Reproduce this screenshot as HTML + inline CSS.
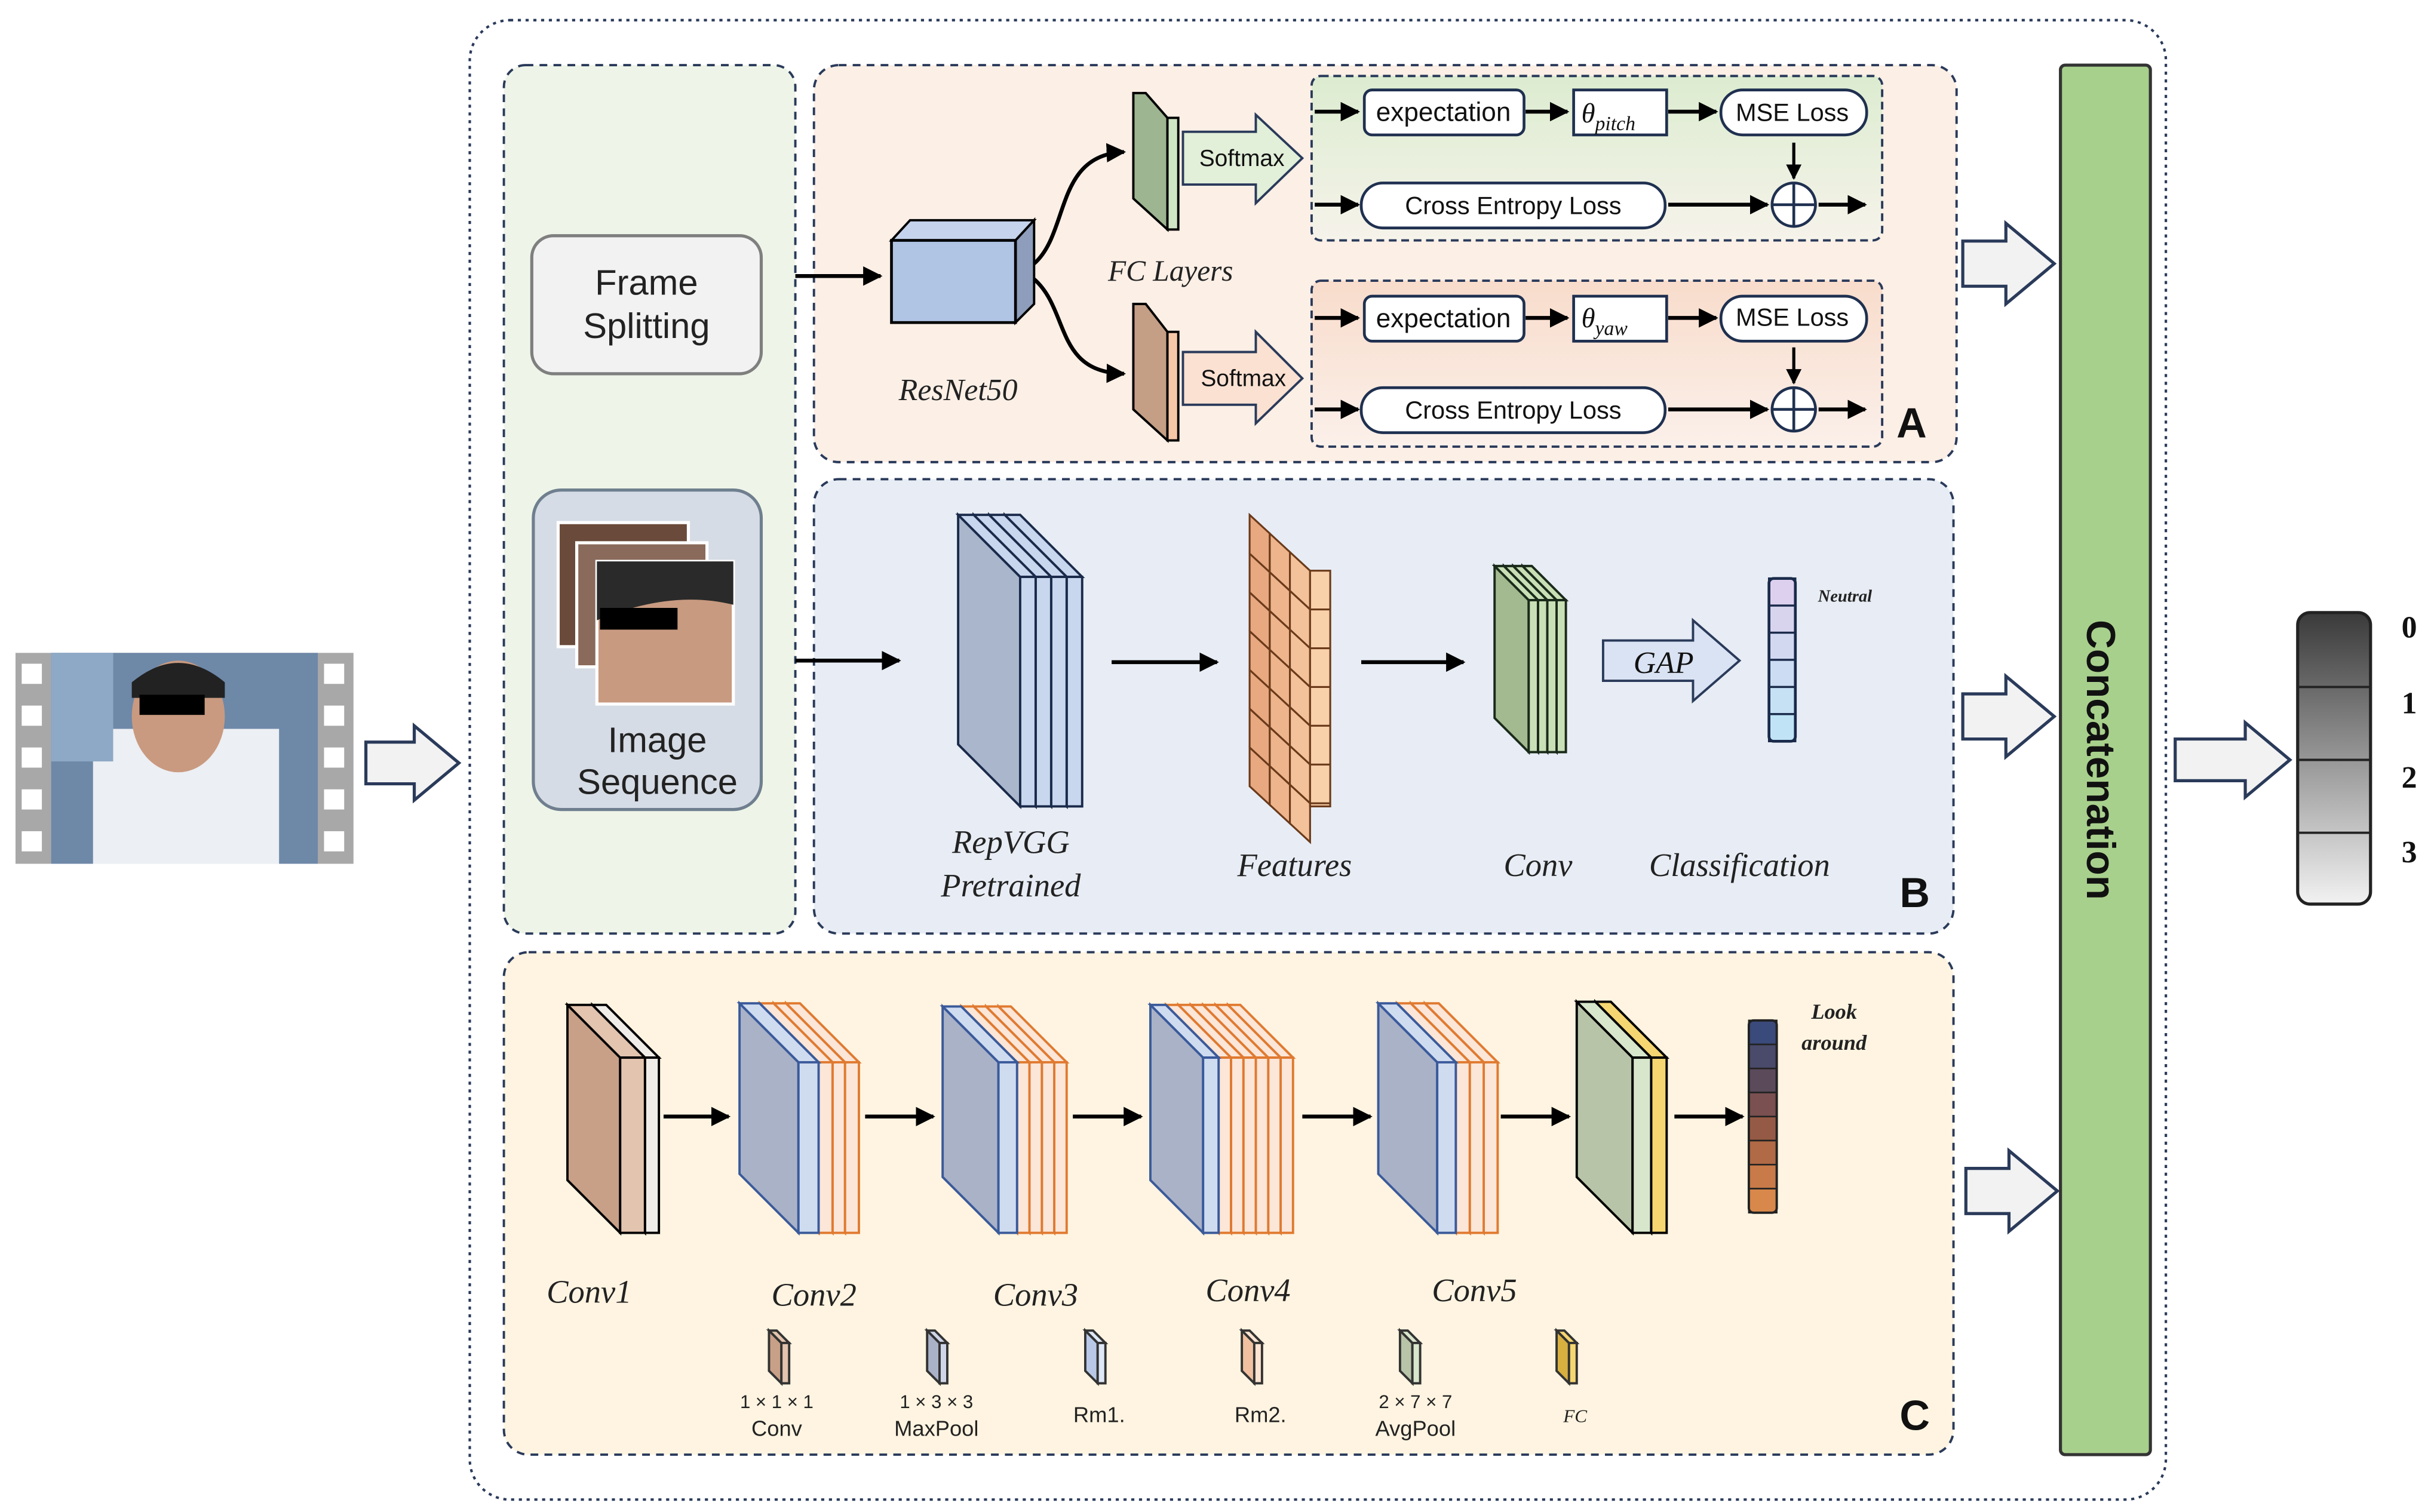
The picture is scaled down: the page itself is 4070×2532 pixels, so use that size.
<!DOCTYPE html>
<html><head><meta charset="utf-8"><style>
html,body{margin:0;padding:0;background:#fff}
svg{display:block}
text{font-family:"Liberation Sans",sans-serif}
.it,.it text{font-family:"Liberation Serif","DejaVu Serif",serif;font-style:italic}
</style></head><body>
<svg id="s" width="4070" height="2532" viewBox="0 0 1568 975" preserveAspectRatio="none" xmlns="http://www.w3.org/2000/svg">
<defs>
<marker id="ah" viewBox="0 0 10 10" refX="9" refY="5" markerWidth="5" markerHeight="5" orient="auto"><path d="M0,0L10,5L0,10z" fill="#000"/></marker>
<linearGradient id="gbar" x1="0" y1="0" x2="0" y2="1"><stop offset="0" stop-color="#3a3a3a"/><stop offset="1" stop-color="#f2f2f2"/></linearGradient>
<linearGradient id="gA1" x1="0" y1="0" x2="0" y2="1"><stop offset="0" stop-color="#dcecd0"/><stop offset="1" stop-color="#f6f3ea"/></linearGradient>
<linearGradient id="gA2" x1="0" y1="0" x2="0" y2="1"><stop offset="0" stop-color="#f8dccb"/><stop offset="1" stop-color="#fbf0ea"/></linearGradient>
</defs>
<rect x="303" y="13" width="1094" height="954" rx="26" fill="#fff" stroke="#2a3a5a" stroke-width="1.6" stroke-dasharray="2,3"/>
<rect x="10" y="421" width="218" height="136" fill="#a8a8a8"/>
<rect x="33" y="421" width="172" height="136" fill="#6e88a8"/>
<rect x="60" y="470" width="120" height="87" fill="#eceff3"/>
<ellipse cx="115" cy="462" rx="30" ry="36" fill="#c99a80"/>
<path d="M85,440 Q115,415 145,440 L145,450 L85,450z" fill="#222"/>
<rect x="90" y="448" width="42" height="13" fill="#000"/>
<rect x="33" y="421" width="40" height="70" fill="#8ea9c6"/>
<g fill="#fff">
<rect x="14" y="428" width="13" height="13"/><rect x="14" y="455" width="13" height="13"/><rect x="14" y="482" width="13" height="13"/><rect x="14" y="509" width="13" height="13"/><rect x="14" y="536" width="13" height="13"/>
<rect x="209" y="428" width="13" height="13"/><rect x="209" y="455" width="13" height="13"/><rect x="209" y="482" width="13" height="13"/><rect x="209" y="509" width="13" height="13"/><rect x="209" y="536" width="13" height="13"/>
</g>
<g id="hollow"></g>
<rect x="325" y="42" width="188" height="560" rx="14" fill="#eef5e8" stroke="#2a3a5a" stroke-width="1.5" stroke-dasharray="5,4"/>
<rect x="343" y="152" width="148" height="89" rx="14" fill="#f2f2f2" stroke="#7f7f7f" stroke-width="2"/>
<text x="417" y="190" font-size="23" text-anchor="middle" fill="#222">Frame</text>
<text x="417" y="218" font-size="23" text-anchor="middle" fill="#222">Splitting</text>
<rect x="344" y="316" width="147" height="206" rx="18" fill="#d6dce5" stroke="#6f7f8f" stroke-width="2"/>
<rect x="360" y="337" width="84" height="80" fill="#6a4a3a" stroke="#fff" stroke-width="2"/>
<rect x="372" y="350" width="84" height="80" fill="#8a6a5a" stroke="#fff" stroke-width="2"/>
<rect x="385" y="362" width="88" height="92" fill="#c89a80" stroke="#fff" stroke-width="2"/>
<path d="M385,362 h88 v28 q-40,-10 -88,10z" fill="#2a2a2a"/>
<rect x="387" y="392" width="50" height="14" fill="#000"/>
<text x="424" y="485" font-size="23" text-anchor="middle" fill="#222">Image</text>
<text x="424" y="512" font-size="23" text-anchor="middle" fill="#222">Sequence</text>
<rect x="525" y="42" width="737" height="256" rx="16" fill="#fbefe6" stroke="#2a3a5a" stroke-width="1.5" stroke-dasharray="5,4"/>
<rect x="846" y="49" width="368" height="106" rx="6" fill="url(#gA1)" stroke="#2a3a5a" stroke-width="1.5" stroke-dasharray="5,3"/>
<rect x="846" y="181" width="368" height="107" rx="6" fill="url(#gA2)" stroke="#2a3a5a" stroke-width="1.5" stroke-dasharray="5,3"/>
<line x1="513" y1="178" x2="568" y2="178" stroke="#000" stroke-width="2.5" marker-end="url(#ah)"/>
<polygon points="575,155 587,142 667,142 655,155" fill="#c5d3ec" stroke="#000" stroke-width="1.5"/>
<polygon points="655,155 667,142 667,196 655,208" fill="#8d9dbb" stroke="#000" stroke-width="1.5"/>
<rect x="575" y="155" width="80" height="53" fill="#b0c4e4" stroke="#000" stroke-width="1.8"/>
<text x="618" y="258" font-size="20" class="it" text-anchor="middle" fill="#222">ResNet50</text>
<path d="M667,170 C690,150 680,100 725,98" fill="none" stroke="#000" stroke-width="2.5" marker-end="url(#ah)"/>
<path d="M667,180 C690,200 680,240 725,241" fill="none" stroke="#000" stroke-width="2.5" marker-end="url(#ah)"/>
<polygon points="731,60 739,60 753,76 753,148 731,128" fill="#9db590" stroke="#000" stroke-width="1.5"/>
<rect x="753" y="76" width="7" height="72" fill="#cfe6c4" stroke="#000" stroke-width="1.5"/>
<polygon points="731,196 739,196 753,214 753,284 731,264" fill="#c49e85" stroke="#000" stroke-width="1.5"/>
<rect x="753" y="214" width="7" height="70" fill="#f7c8a8" stroke="#000" stroke-width="1.5"/>
<text x="755" y="181" font-size="19" class="it" text-anchor="middle" fill="#222">FC Layers</text>
<polygon points="763,85 810,85 810,74 840,102 810,131 810,119 763,119" fill="#e2efd9" stroke="#2a3a5a" stroke-width="1.5"/>
<polygon points="763,227 810,227 810,214 840,244 810,273 810,261 763,261" fill="#fbe1d2" stroke="#2a3a5a" stroke-width="1.5"/>
<text x="801" y="107" font-size="15" text-anchor="middle" fill="#111">Softmax</text>
<text x="802" y="249" font-size="15" text-anchor="middle" fill="#111">Softmax</text>
<g stroke="#000" stroke-width="2.5" marker-end="url(#ah)">
<line x1="848" y1="72" x2="876" y2="72"/><line x1="984" y1="72" x2="1011" y2="72"/><line x1="1076" y1="72" x2="1107" y2="72"/>
<line x1="848" y1="132" x2="876" y2="132"/><line x1="1076" y1="132" x2="1140" y2="132"/><line x1="1173" y1="132" x2="1203" y2="132"/>
<line x1="1157" y1="92" x2="1157" y2="115" stroke-width="2"/>
<line x1="848" y1="205" x2="876" y2="205"/><line x1="984" y1="205" x2="1011" y2="205"/><line x1="1076" y1="205" x2="1107" y2="205"/>
<line x1="848" y1="264" x2="876" y2="264"/><line x1="1076" y1="264" x2="1140" y2="264"/><line x1="1173" y1="264" x2="1203" y2="264"/>
<line x1="1157" y1="224" x2="1157" y2="247" stroke-width="2"/>
</g>
<g fill="#fff" stroke="#1f3050" stroke-width="1.8">
<rect x="880" y="58" width="103" height="29" rx="5"/><rect x="1015" y="58" width="60" height="29"/><rect x="1110" y="58" width="94" height="29" rx="14"/>
<rect x="878" y="118" width="196" height="29" rx="14"/><circle cx="1157" cy="132" r="14"/>
<rect x="880" y="191" width="103" height="29" rx="5"/><rect x="1015" y="191" width="60" height="29"/><rect x="1110" y="191" width="94" height="29" rx="14"/>
<rect x="878" y="250" width="196" height="29" rx="14"/><circle cx="1157" cy="264" r="14"/>
</g>
<g stroke="#1f3050" stroke-width="1.8"><line x1="1143" y1="132" x2="1171" y2="132"/><line x1="1157" y1="118" x2="1157" y2="146"/><line x1="1143" y1="264" x2="1171" y2="264"/><line x1="1157" y1="250" x2="1157" y2="278"/></g>
<g font-size="17" text-anchor="middle" fill="#111">
<text x="931" y="78">expectation</text><text x="1156" y="78" font-size="16">MSE Loss</text>
<text x="976" y="138" font-size="16">Cross Entropy Loss</text>
<text x="931" y="211">expectation</text><text x="1156" y="210" font-size="16">MSE Loss</text>
<text x="976" y="270" font-size="16">Cross Entropy Loss</text>
</g>
<text x="1020" y="79" font-size="18" class="it" fill="#111">θ<tspan font-size="13" dy="5">pitch</tspan></text>
<text x="1020" y="211" font-size="18" class="it" fill="#111">θ<tspan font-size="13" dy="5">yaw</tspan></text>
<text x="1233" y="282" font-size="27" font-weight="bold" text-anchor="middle" fill="#111">A</text>
<rect x="525" y="309" width="735" height="293" rx="16" fill="#e8edf5" stroke="#2a3a5a" stroke-width="1.5" stroke-dasharray="5,4"/>
<line x1="513" y1="426" x2="580" y2="426" stroke="#000" stroke-width="2.5" marker-end="url(#ah)"/>
<line x1="717" y1="427" x2="785" y2="427" stroke="#000" stroke-width="2.5" marker-end="url(#ah)"/>
<line x1="878" y1="427" x2="944" y2="427" stroke="#000" stroke-width="2.5" marker-end="url(#ah)"/>
<polygon points="1034,413 1092,413 1092,400 1122,426 1092,452 1092,439 1034,439" fill="#dae3f3" stroke="#2a3a5a" stroke-width="1.5"/>
<text x="1073" y="434" font-size="20" class="it" text-anchor="middle" fill="#111">GAP</text>
<text x="1190" y="388" font-size="11" class="it" font-weight="bold" text-anchor="middle" fill="#222">Neutral</text>
<g font-size="21" class="it" text-anchor="middle" fill="#222">
<text x="652" y="550">RepVGG</text><text x="652" y="578">Pretrained</text>
<text x="835" y="565">Features</text><text x="992" y="565">Conv</text><text x="1122" y="565">Classification</text>
</g>
<text x="1235" y="585" font-size="27" font-weight="bold" text-anchor="middle" fill="#111">B</text>
<rect x="325" y="614" width="935" height="324" rx="16" fill="#fff4e1" stroke="#2a3a5a" stroke-width="1.5" stroke-dasharray="5,4"/>
<g stroke="#000" stroke-width="2.5" marker-end="url(#ah)">
<line x1="428" y1="720" x2="470" y2="720"/><line x1="558" y1="720" x2="602" y2="720"/><line x1="692" y1="720" x2="736" y2="720"/><line x1="840" y1="720" x2="884" y2="720"/><line x1="968" y1="720" x2="1012" y2="720"/><line x1="1080" y1="720" x2="1124" y2="720"/>
</g>
<text x="1183" y="657" font-size="14" class="it" font-weight="bold" text-anchor="middle" fill="#222">Look</text>
<text x="1183" y="677" font-size="14" class="it" font-weight="bold" text-anchor="middle" fill="#222">around</text>
<g font-size="21" class="it" text-anchor="middle" fill="#222">
<text x="380" y="840">Conv1</text><text x="525" y="842">Conv2</text><text x="668" y="842">Conv3</text><text x="805" y="839">Conv4</text><text x="951" y="839">Conv5</text>
</g>
<g font-size="14" text-anchor="middle" fill="#222">
<text x="501" y="908" font-size="12">1 × 1 × 1</text><text x="501" y="926">Conv</text>
<text x="604" y="908" font-size="12">1 × 3 × 3</text><text x="604" y="926">MaxPool</text>
<text x="709" y="917">Rm1.</text><text x="813" y="917">Rm2.</text>
<text x="913" y="908" font-size="12">2 × 7 × 7</text><text x="913" y="926">AvgPool</text>
<text x="1016" y="917" font-size="12" class="it">FC</text>
</g>
<text x="1235" y="922" font-size="27" font-weight="bold" text-anchor="middle" fill="#111">C</text>
<rect x="1329" y="42" width="58" height="896" rx="3" fill="#a8d08d" stroke="#333" stroke-width="2"/>
<text transform="translate(1346,490) rotate(90)" font-size="26" font-weight="bold" text-anchor="middle" fill="#111">Concatenation</text>
<rect x="1482" y="395" width="47" height="188" rx="8" fill="url(#gbar)" stroke="#222" stroke-width="2"/>
<g stroke="#222" stroke-width="1.5"><line x1="1482" y1="443" x2="1529" y2="443"/><line x1="1482" y1="490" x2="1529" y2="490"/><line x1="1482" y1="537" x2="1529" y2="537"/></g>
<g font-size="20" font-weight="bold" fill="#111">
<text x="1549" y="411" style="font-family:'Liberation Serif',serif">0</text><text x="1549" y="460" style="font-family:'Liberation Serif',serif">1</text><text x="1549" y="508" style="font-family:'Liberation Serif',serif">2</text><text x="1549" y="556" style="font-family:'Liberation Serif',serif">3</text>
</g>
<g id="dyn"></g>
</svg>
<script>
var NS="http://www.w3.org/2000/svg";
function el(p,t,a){var e=document.createElementNS(NS,t);for(var k in a)e.setAttribute(k,a[k]);p.appendChild(e);return e;}
var H=document.getElementById("hollow");
function harrow(x1,x2,y,h){var hh=h/2,sh=h*0.28,hx=x2-h*0.6;
el(H,"polygon",{points:[x1,y-sh,hx,y-sh,hx,y-hh,x2,y,hx,y+hh,hx,y+sh,x1,y+sh].join(","),fill:"#f2f2f2",stroke:"#2a3a5a","stroke-width":2});}
harrow(236,296,492,48);harrow(1266,1325,170,52);harrow(1266,1325,462,52);harrow(1268,1327,768,52);harrow(1403,1477,490,48);
var D=document.getElementById("dyn");
function slab(g,fx,fw,t,b,dx,side,front,stroke){
el(g,"polygon",{points:[fx-dx,t-dx,fx,t,fx,b,fx-dx,b-dx].join(","),fill:side,stroke:stroke,"stroke-width":1.5});
el(g,"polygon",{points:[fx-dx,t-dx,fx-dx+fw,t-dx,fx+fw,t,fx,t].join(","),fill:front,stroke:stroke,"stroke-width":1.5});
el(g,"rect",{x:fx,y:t,width:fw,height:b-t,fill:front,stroke:stroke,"stroke-width":1.5});}
function stack(g,x,dx,t,b,layers){
var xs=[],cx=x;for(var i=0;i<layers.length;i++){xs.push(cx);cx+=layers[i][0];}
for(var i=layers.length-1;i>=0;i--){var L=layers[i];slab(g,xs[i],L[0],t,b,dx,L[1],L[2],L[3]);}}
stack(D,658,40,372,520,[[10,"#aab6cc","#c8d6ee","#1a2a4a"],[10,"#c8d6ee","#c8d6ee","#1a2a4a"],[10,"#c8d6ee","#c8d6ee","#1a2a4a"],[10,"#c8d6ee","#c8d6ee","#1a2a4a"]]);
// Features: 3D brick block
(function(){var cols=[["#e8a880","#f0b890"],["#eeb58c","#f5c39c"],["#f3c29a","#f8d0aa"]];
for(var c=0;c<3;c++){var x0=806+c*13,y0=332+c*12;
for(var r=0;r<7;r++){el(D,"polygon",{points:[x0,y0+r*25,x0+13,y0+r*25+12,x0+13,y0+r*25+37,x0,y0+r*25+25].join(","),fill:cols[c][0],stroke:"#6a3a1a","stroke-width":1.2});}}
el(D,"rect",{x:845,y:368,width:13,height:152,fill:"#f8d0aa",stroke:"#6a3a1a","stroke-width":1.2});
for(var r=1;r<7;r++)el(D,"line",{x1:845,y1:368+r*25,x2:858,y2:368+r*25,stroke:"#6a3a1a","stroke-width":1.2});})();
stack(D,986,22,387,485,[[6,"#a3b98f","#c9e0b6","#1a2a1a"],[6,"#c9e0b6","#c9e0b6","#1a2a1a"],[6,"#c9e0b6","#c9e0b6","#1a2a1a"],[6,"#c9e0b6","#c9e0b6","#1a2a1a"]]);
var cc=["#ddd0ee","#d8d4ee","#d2d8f0","#ccdcf2","#c6e0f4","#c0e4f6"];
for(var i=0;i<6;i++)el(D,"rect",{x:1141,y:373+i*17.5,width:17,height:17.5,fill:cc[i],stroke:"#1a2a4a","stroke-width":1.3});
el(D,"rect",{x:1141,y:373,width:17,height:105,rx:3,fill:"none",stroke:"#1a2a4a","stroke-width":1.8});
var B="#3a5a9a",O="#e07a30",K="#000",P="#fbe6d8";
stack(D,400,34,682,795,[[16,"#c8a088","#e3c4ae",K],[9,"#f0ede8","#f0ede8",K]]);
stack(D,515,38,685,795,[[13,"#aab2c8","#cfdcf0",B],[9,P,P,O],[8,P,P,O],[9,P,P,O]]);
stack(D,644,36,685,795,[[12,"#aab2c8","#cfdcf0",B],[8,P,P,O],[8,P,P,O],[8,P,P,O],[8,P,P,O]]);
stack(D,776,34,682,795,[[10,"#aab2c8","#cfdcf0",B],[8,P,P,O],[8,P,P,O],[8,P,P,O],[8,P,P,O],[8,P,P,O],[8,P,P,O]]);
stack(D,927,38,685,795,[[12,"#aab2c8","#cfdcf0",B],[9,P,P,O],[9,P,P,O],[9,P,P,O]]);
stack(D,1053,36,682,795,[[12,"#b8c4a8","#d8e6cc",K],[10,"#f5d670","#f5d670",K]]);
var lc=["#3a4a7a","#4a4a6a","#5a4a5a","#7a5050","#955a45","#b06a45","#c87a48","#d8884a"];
for(var i=0;i<8;i++)el(D,"rect",{x:1128,y:658+i*15.5,width:18,height:15.5,fill:lc[i],stroke:"#222","stroke-width":1});
el(D,"rect",{x:1128,y:658,width:18,height:124,rx:3,fill:"none",stroke:"#222","stroke-width":1.5});
var lg=[[504,"#c8a088","#e3c4ae"],[606,"#aab2c8","#cfd6e8"],[708,"#b8c8e6","#dfe8f6"],[809,"#f0c0a0","#fde3d2"],[911,"#b8c4a8","#d8e6cc"],[1012,"#d8b040","#f5d670"]];
lg.forEach(function(a){slab(D,a[0],5,866,892,8,a[1],a[2],"#333");});
</script>
</body></html>
